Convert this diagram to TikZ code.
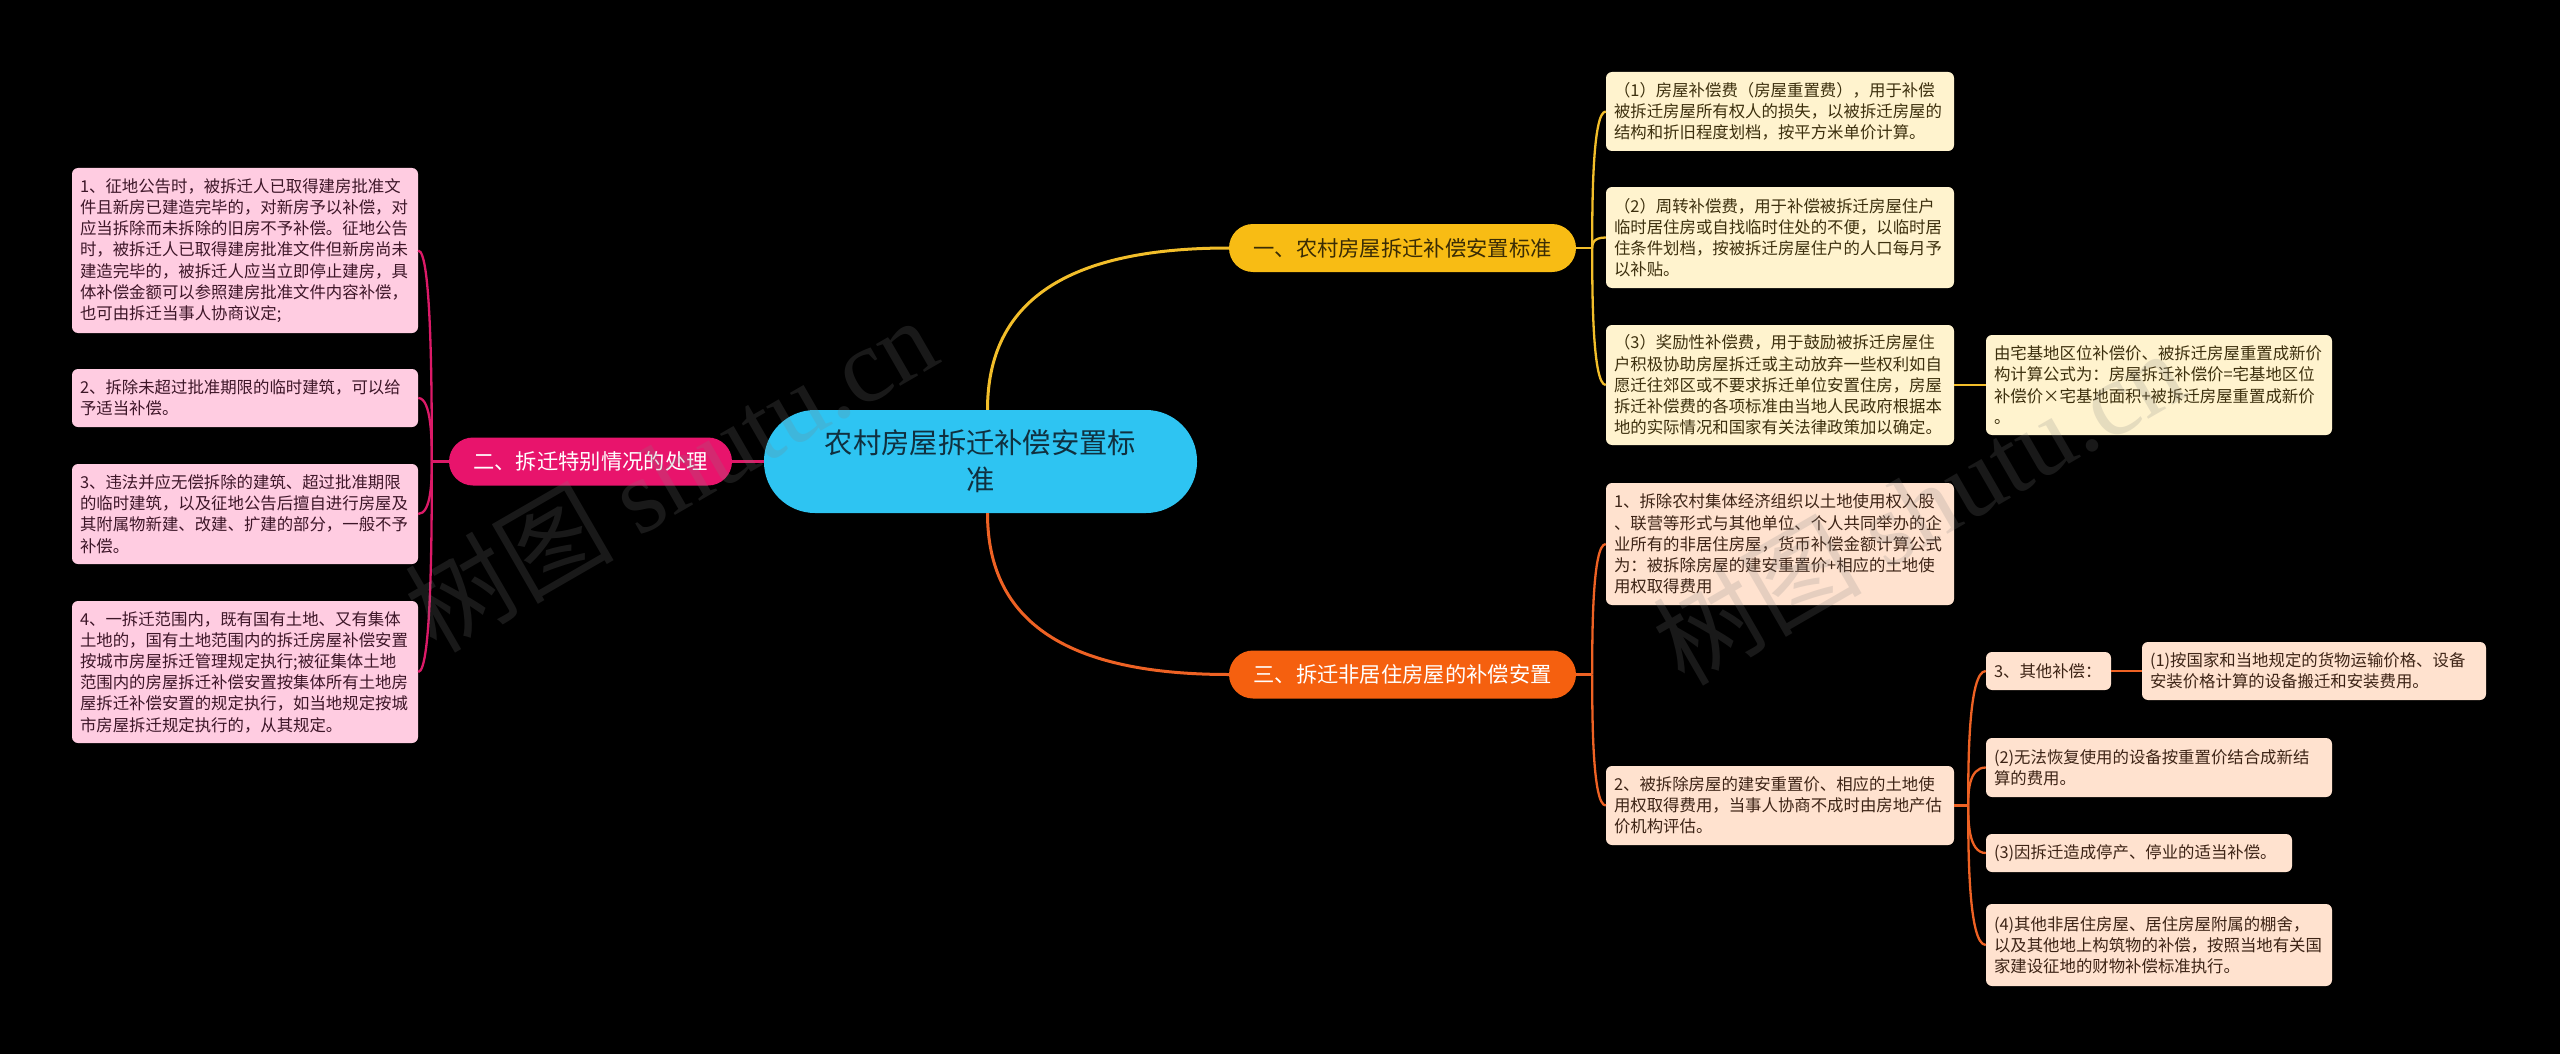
\documentclass[tikz,border=0pt]{standalone}
\usepackage{fontspec}
\setmainfont{Noto Sans CJK SC}
\newfontfamily\wmlatin{Liberation Serif}
\usetikzlibrary{calc}
\definecolor{ccyan}{HTML}{2EC4F2}
\definecolor{cyel}{HTML}{F8BC14}
\definecolor{cora}{HTML}{F5600F}
\definecolor{cpink}{HTML}{E8146C}
\definecolor{lyel}{HTML}{FFF3CE}
\definecolor{lora}{HTML}{FFE2CF}
\definecolor{lpink}{HTML}{FFCCE1}
\definecolor{tyel}{HTML}{3D300E}
\definecolor{tora}{HTML}{3D2416}
\definecolor{tpink}{HTML}{3D1628}
\definecolor{tcen}{HTML}{10303F}
\definecolor{tbr}{HTML}{3A2C05}
\definecolor{lnyel}{HTML}{F2BE2A}
\definecolor{lnora}{HTML}{EE6224}
\definecolor{lnpink}{HTML}{DC1A68}
\newcommand\brlink[3]{\draw[#1] (#2) .. controls ($(#2)!0.3!(#2 |- #3)$) and (#2 |- #3) .. (#3);}
\begin{document}
\begin{tikzpicture}[x=1pt,y=-1pt,
  leafbox/.style={rounded corners=6pt, inner xsep=8pt, inner ysep=0pt, align=left,
    font=\fontsize{16.4}{21.2}\selectfont, anchor=center},
  yleaf/.style={leafbox, fill=lyel, text=tyel},
  oleaf/.style={leafbox, fill=lora, text=tora},
  pleaf/.style={leafbox, fill=lpink, text=tpink},
  branchbox/.style={rounded corners=24pt, minimum height=48, inner sep=0pt,
    font=\fontsize{21.3}{26}\selectfont, anchor=center},
  mainline/.style={line width=3pt},
  yl/.style={line width=2.3pt, lnyel},
  ol/.style={line width=2.3pt, lnora},
  pl/.style={line width=2.3pt, lnpink},
  wm/.style={text=gray, opacity=0.2, rotate=30, font=\fontsize{105}{110}\selectfont}
]
\fill[black] (0,0) rectangle (2560,1054);
\useasboundingbox (0,0) rectangle (2560,1054);

% center
\node[fill=ccyan, text=tcen, rounded corners=51pt, minimum width=433, minimum height=103,
  inner sep=0pt, align=center, font=\fontsize{28.3}{37}\selectfont] (c) at (980.5,461.5)
  {农村房屋拆迁补偿安置标\\准};

% branches
\node[branchbox, fill=cyel, text=tbr, minimum width=347] (b1) at (1402.5,248) {一、农村房屋拆迁补偿安置标准};
\node[branchbox, fill=cpink, text=white, minimum width=283] (b2) at (590.5,461.5) {二、拆迁特别情况的处理};
\node[branchbox, fill=cora, text=white, minimum width=347] (b3) at (1402.5,674.5) {三、拆迁非居住房屋的补偿安置};

% left leaves
\node[pleaf, text width=330, minimum height=165] (l1) at (245,250.5) {1、征地公告时，被拆迁人已取得建房批准文\\件且新房已建造完毕的，对新房予以补偿，对\\应当拆除而未拆除的旧房不予补偿。征地公告\\时，被拆迁人已取得建房批准文件但新房尚未\\建造完毕的，被拆迁人应当立即停止建房，具\\体补偿金额可以参照建房批准文件内容补偿，\\也可由拆迁当事人协商议定;};
\node[pleaf, text width=330, minimum height=58] (l2) at (245,398) {2、拆除未超过批准期限的临时建筑，可以给\\予适当补偿。};
\node[pleaf, text width=330, minimum height=100] (l3) at (245,514) {3、违法并应无偿拆除的建筑、超过批准期限\\的临时建筑，以及征地公告后擅自进行房屋及\\其附属物新建、改建、扩建的部分，一般不予\\补偿。};
\node[pleaf, text width=330, minimum height=142] (l4) at (245,672) {4、一拆迁范围内，既有国有土地、又有集体\\土地的，国有土地范围内的拆迁房屋补偿安置\\按城市房屋拆迁管理规定执行;被征集体土地\\范围内的房屋拆迁补偿安置按集体所有土地房\\屋拆迁补偿安置的规定执行，如当地规定按城\\市房屋拆迁规定执行的，从其规定。};

% yellow leaves
\node[yleaf, text width=332, minimum height=79] (r1) at (1780,111.5) {（1）房屋补偿费（房屋重置费），用于补偿\\被拆迁房屋所有权人的损失，以被拆迁房屋的\\结构和折旧程度划档，按平方米单价计算。};
\node[yleaf, text width=332, minimum height=101] (r2) at (1780,237.5) {（2）周转补偿费，用于补偿被拆迁房屋住户\\临时居住房或自找临时住处的不便，以临时居\\住条件划档，按被拆迁房屋住户的人口每月予\\以补贴。};
\node[yleaf, text width=332, minimum height=120] (r3) at (1780,385) {（3）奖励性补偿费，用于鼓励被拆迁房屋住\\户积极协助房屋拆迁或主动放弃一些权利如自\\愿迁往郊区或不要求拆迁单位安置住房，房屋\\拆迁补偿费的各项标准由当地人民政府根据本\\地的实际情况和国家有关法律政策加以确定。};
\node[yleaf, text width=330, minimum height=100] (r3a) at (2159,385) {由宅基地区位补偿价、被拆迁房屋重置成新价\\构计算公式为：房屋拆迁补偿价=宅基地区位\\补偿价×宅基地面积+被拆迁房屋重置成新价\\。};

% orange leaves
\node[oleaf, text width=332, minimum height=122] (n1) at (1780,544) {1、拆除农村集体经济组织以土地使用权入股\\、联营等形式与其他单位、个人共同举办的企\\业所有的非居住房屋，货币补偿金额计算公式\\为：被拆除房屋的建安重置价+相应的土地使\\用权取得费用};
\node[oleaf, text width=332, minimum height=79] (n2) at (1780,805.5) {2、被拆除房屋的建安重置价、相应的土地使\\用权取得费用，当事人协商不成时由房地产估\\价机构评估。};
\node[oleaf, text width=109, minimum height=38] (n3) at (2048.5,671) {3、其他补偿：};
\node[oleaf, text width=328, minimum height=58] (n3a) at (2314,671) {(1)按国家和当地规定的货物运输价格、设备\\安装价格计算的设备搬迁和安装费用。};
\node[oleaf, text width=330, minimum height=59] (n4) at (2159,767.5) {(2)无法恢复使用的设备按重置价结合成新结\\算的费用。};
\node[oleaf, text width=290, minimum height=38] (n5) at (2139,853) {(3)因拆迁造成停产、停业的适当补偿。};
\node[oleaf, text width=330, minimum height=82] (n6) at (2159,945) {(4)其他非居住房屋、居住房屋附属的棚舍，\\以及其他地上构筑物的补偿，按照当地有关国\\家建设征地的财物补偿标准执行。};

% main connectors
\draw[mainline, lnyel] ([xshift=7pt]c.north) .. controls +(0,-110) and +(-160,0) .. (b1.west);
\draw[mainline, lnora] ([xshift=7pt]c.south) .. controls +(0,110) and +(-160,0) .. (b3.west);
\draw[mainline, lnpink] (b2.east) -- (c.west);

% left bracket
\draw[pl] (b2.west) -- ++(-17,0) coordinate (jl);
\brlink{pl}{jl}{l1.east}
\brlink{pl}{jl}{l2.east}
\brlink{pl}{jl}{l3.east}
\brlink{pl}{jl}{l4.east}

% yellow bracket
\draw[yl] (b1.east) -- ++(16,0) coordinate (jy);
\brlink{yl}{jy}{r1.west}
\brlink{yl}{jy}{r2.west}
\brlink{yl}{jy}{r3.west}
\draw[yl] (r3.east) -- (r3a.west);

% orange bracket
\draw[ol] (b3.east) -- ++(16,0) coordinate (jo);
\brlink{ol}{jo}{n1.west}
\brlink{ol}{jo}{n2.west}
\draw[ol] (n2.east) -- ++(14,0) coordinate (jn);
\brlink{ol}{jn}{n3.west}
\brlink{ol}{jn}{n4.west}
\brlink{ol}{jn}{n5.west}
\brlink{ol}{jn}{n6.west}
\draw[ol] (n3.east) -- (n3a.west);

% watermarks
\node[wm] (wm1) at (670,473) {树图 {\wmlatin shutu.cn}};
\node[wm] (wm2) at (1918,506) {树图 {\wmlatin shutu.cn}};
\end{tikzpicture}
\end{document}
